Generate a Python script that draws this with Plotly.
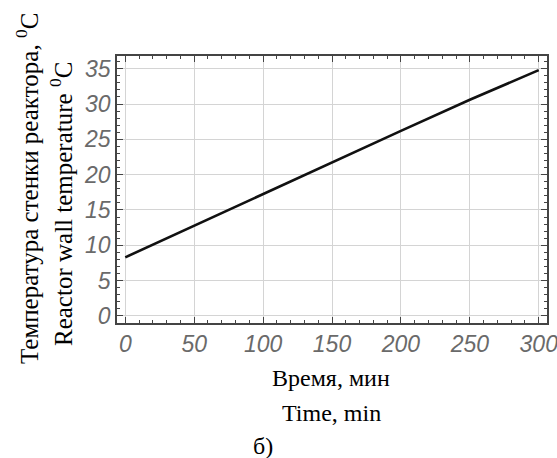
import plotly.graph_objects as go

time_min = [0, 50, 100, 150, 200, 250, 300]
wall_temp = [8.3, 12.8, 17.2, 21.7, 26.2, 30.6, 34.8]
x_ticks = [0, 50, 100, 150, 200, 250, 300]
y_ticks = [0, 5, 10, 15, 20, 25, 30, 35]

fig = go.Figure()
fig.add_trace(go.Scatter(x=time_min, y=wall_temp, mode="lines",
                         line=dict(color="#111111", width=2.6), showlegend=False))

tickfont = dict(family="Liberation Sans, Arial", size=23, color="#6a6a6a", style="italic")
axis_common = dict(
    showline=True, linecolor="#444444", linewidth=1.5, mirror="ticks",
    ticks="inside", ticklen=6, tickwidth=1.2, tickcolor="#444444",
    showgrid=True, gridcolor="#d4d4d4", gridwidth=1,
    zeroline=False, tickfont=tickfont, automargin=False, ticklabeloverflow="allow",
)
fig.update_xaxes(range=[-6, 306], tickvals=x_ticks,
                 minor=dict(dtick=10, tick0=0, ticks="inside", ticklen=3, tickcolor="#444444", showgrid=False),
                 **axis_common)
fig.update_yaxes(range=[-1, 36.8], tickvals=y_ticks,
                 minor=dict(dtick=1, tick0=0, ticks="inside", ticklen=3, tickcolor="#444444", showgrid=False),
                 **axis_common)

serif = dict(family="Liberation Serif, Times New Roman", size=24, color="#000000")
serif_y = dict(family="Liberation Serif, Times New Roman", size=25, color="#000000")
W, H = 557, 458
L, R, T, B = 117, 10, 56, 135
pw, ph = W - L - R, H - T - B

def px(x):
    return (x - L) / pw

def py(y):
    return 1 - (y - T) / ph

annos = [
    dict(text="Время, мин", x=331, y=378),
    dict(text="Time, min", x=331, y=413),
    dict(text="б)", x=263, y=446),
]
for a in annos:
    fig.add_annotation(text=a["text"], xref="paper", yref="paper",
                       x=px(a["x"]), y=py(a["y"]),
                       showarrow=False, font=serif, xanchor="center", yanchor="middle")
fig.add_annotation(text="Температура стенки реактора, <sup>0</sup>C", xref="paper", yref="paper",
                   x=px(27), y=py(189), textangle=-90, showarrow=False,
                   font=serif_y, xanchor="center", yanchor="middle")
fig.add_annotation(text="Reactor wall temperature <sup>0</sup>C", xref="paper", yref="paper",
                   x=px(61), y=py(204), textangle=-90, showarrow=False,
                   font=serif_y, xanchor="center", yanchor="middle")

fig.update_layout(width=W, height=H, margin=dict(l=L, r=R, t=T, b=B),
                  plot_bgcolor="white", paper_bgcolor="white")
fig.write_html("out.html")
